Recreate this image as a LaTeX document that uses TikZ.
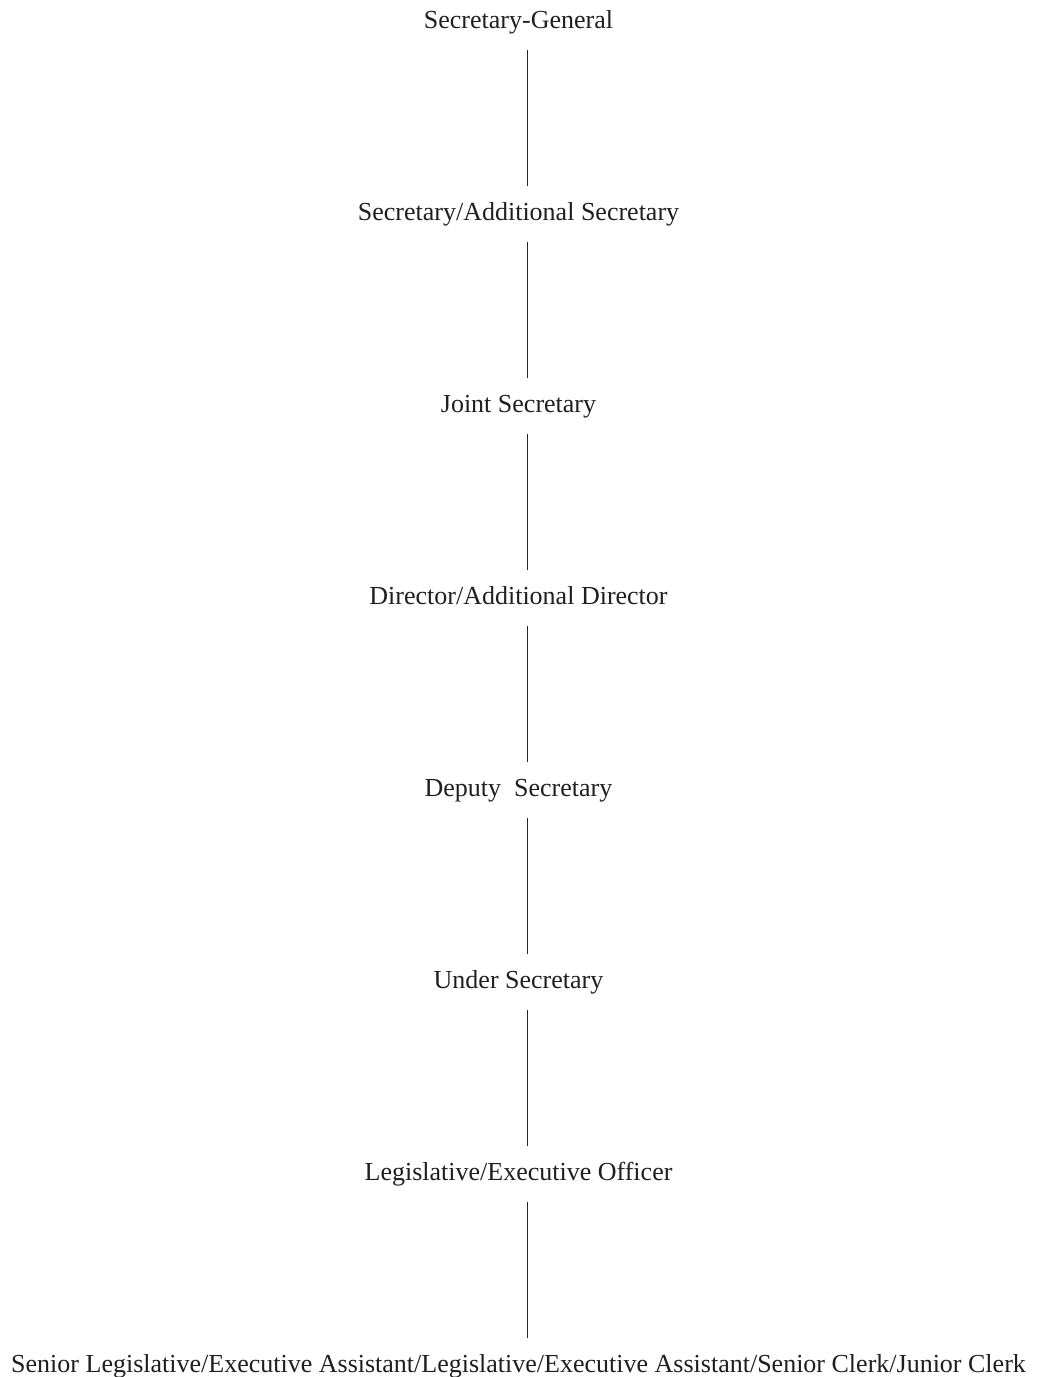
\documentclass[tikz,border=0pt]{standalone}
\usepackage{fontspec}
\setmainfont{Liberation Serif}
\begin{document}
\begin{tikzpicture}[x=1pt,y=-1pt,
  rank/.style={anchor=base,inner sep=0pt,text height=18pt,text depth=6pt,
    font=\fontsize{26pt}{30pt}\selectfont,text=black!88},
  link/.style={line width=1pt,draw=black!85}]
\useasboundingbox (0,0) rectangle (1037,1377);
\node[rank] (r1) at (518.5,28)   {Secretary-General};
\node[rank] (r2) at (518.5,220)  {Secretary/Additional Secretary};
\node[rank] (r3) at (518.5,412)  {Joint Secretary};
\node[rank] (r4) at (518.5,604)  {Director/Additional Director};
\node[rank] (r5) at (518.5,796)  {Deputy\ \ Secretary};
\node[rank] (r6) at (518.5,988)  {Under Secretary};
\node[rank] (r7) at (518.5,1180) {Legislative/Executive Officer};
\node[rank] (r8) at (518.5,1372) {Senior Legislative/Executive Assistant/Legislative/Executive Assistant/Senior Clerk/Junior Clerk};
% vertical links, set slightly right of the text centres
\foreach \a/\b in {r1/r2,r2/r3,r3/r4,r4/r5,r5/r6,r6/r7,r7/r8}
  \draw[link] ([xshift=8.5pt,yshift=-16pt]\a.south) -- ([xshift=8.5pt,yshift=16pt]\b.north);
\end{tikzpicture}
\end{document}
